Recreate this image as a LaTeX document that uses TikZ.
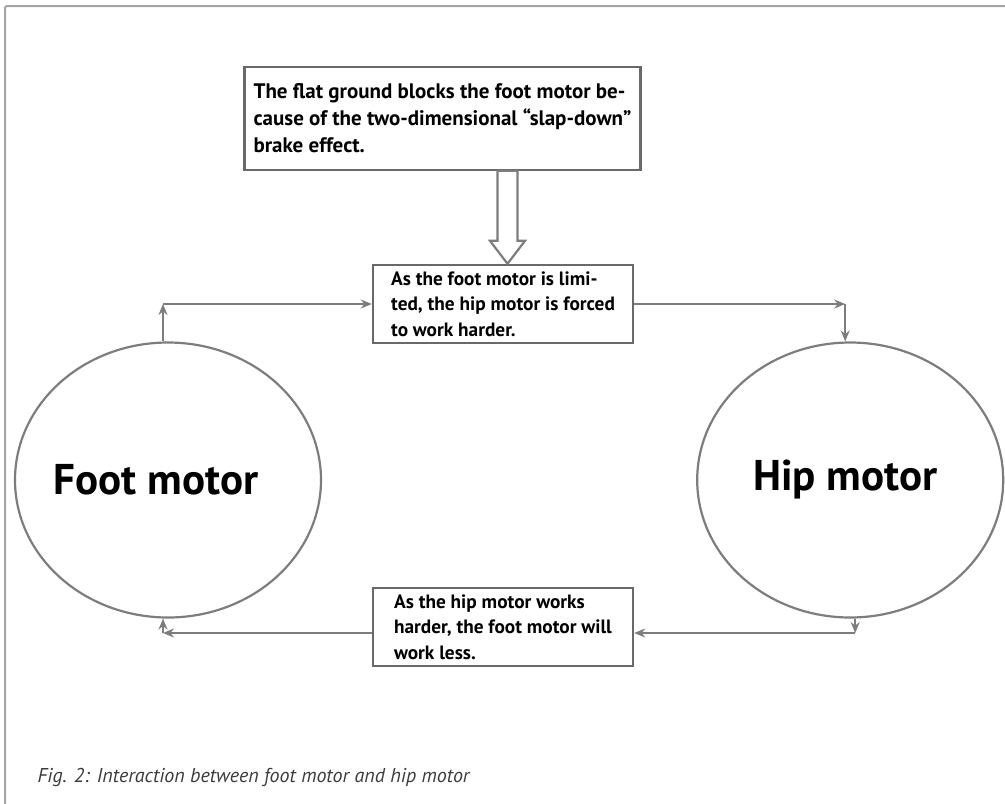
\documentclass[tikz,border=0pt]{standalone}
\usepackage{fontspec}
\setmainfont{PT Sans}
\usetikzlibrary{arrows.meta,positioning,shapes.geometric,calc}
\definecolor{linegray}{RGB}{125,125,125}
\definecolor{boxgray}{RGB}{105,105,105}
\definecolor{framegray}{RGB}{165,165,165}
\definecolor{captiongray}{RGB}{60,60,60}

\begin{document}
\begin{tikzpicture}[
    x=1pt, y=-1pt,
    >={Stealth[length=11pt,width=9pt]},
    font=\bfseries,
    cause/.style={
		rectangle,
		draw=boxgray,
		line width=2.4pt,
		align=left,
		inner xsep=9pt,
		fill=white
	},
	motor/.style={
		ellipse,
		draw=linegray,
		line width=2.2pt,
		inner sep=0pt,
		minimum width=306pt,
		minimum height=275pt,
		font=\fontsize{43}{43}\selectfont\bfseries
	},
	flow/.style={
		draw=linegray,
		line width=2.3pt
	}
  ]

% // frame
\useasboundingbox (0,0) rectangle (1005,804);
\draw [framegray, line width=2pt, rounded corners=2pt] (1005,6) -- (5,6) -- (5,804);

% // the two motors
\node [motor] (foot) at (168,480) {\makebox[0pt]{\hspace*{-24pt}Foot motor}};
\node [motor, right=374pt of foot] (hip) {\makebox[0pt]{\hspace*{-10pt}Hip motor}};

% // the boxes
\node [cause, minimum width=395pt, minimum height=103pt,
       font=\fontsize{21}{27}\selectfont\bfseries] (ground) at (442.5,118.5)
 {%
 The flat ground blocks the foot motor be-\\
 cause of the two-dimensional “slap-down”\\
 brake effect.
 };
\node [cause, minimum width=260pt, minimum height=78pt,
       font=\fontsize{19.3}{25.5}\selectfont\bfseries] (limited) at (503,304)
 {%
 As the foot motor is limi-\\
 ted, the hip motor is forced\\
 to work harder.
 };
\node [cause, minimum width=260pt, minimum height=78pt,
       font=\fontsize{19.3}{25.5}\selectfont\bfseries] (harder) at (503,627)
 {%
 As the hip motor works\\
 harder, the foot motor will\\
 work less.
 };

% // the big hollow arrow
\coordinate (tip) at ([xshift=4.5pt]limited.north);
\draw [flow, line width=2.2pt, line join=miter]
  (tip) -- ++(-17.5,-23) -- ++(7.5,0) -- ++(0,-70) -- ++(20,0)
  -- ++(0,70) -- ++(7.5,0) -- cycle;

% // upper loop
\coordinate (c1) at ([xshift=-5pt]foot.north |- limited.west);
\coordinate (c2) at ([xshift=-5pt]hip.north |- limited.east);
\draw [flow, ->] ([xshift=-5pt]foot.north) -- (c1);
\draw [flow, ->] (c1) -- (limited.west);
\draw [flow, ->] (limited.east) -- (c2);
\draw [flow, ->] (c2) -- ([xshift=-5pt]hip.north);

% // lower loop
\coordinate (he) at ([yshift=-6pt]harder.east);
\coordinate (hw) at ([yshift=-6pt]harder.west);
\coordinate (c3) at ([xshift=5pt]hip.south |- he);
\coordinate (c4) at ([xshift=-5pt]foot.south |- hw);
\draw [flow, ->] ([xshift=5pt]hip.south) -- (c3);
\draw [flow, ->] (c3) -- (he);
\draw [flow, ->] (hw) -- (c4);
\draw [flow, ->] (c4) -- ([xshift=-5pt]foot.south);

% // caption
\node [anchor=base west, captiongray, font=\fontsize{20}{20}\selectfont\itshape]
  (caption) at (34,782) {Fig. 2: Interaction between foot motor and hip motor};

\end{tikzpicture}
\end{document}
